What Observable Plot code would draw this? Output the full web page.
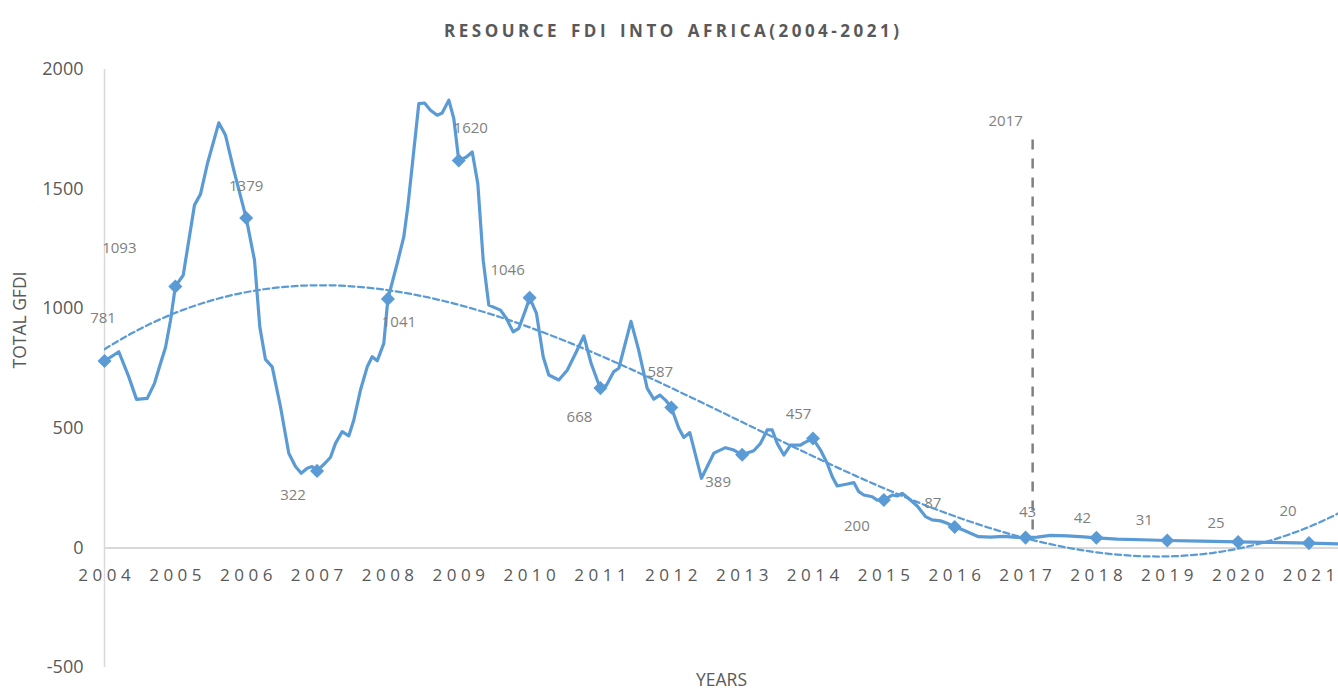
<!DOCTYPE html>
<html>
<head>
<meta charset="utf-8">
<script src="https://cdn.jsdelivr.net/npm/d3@7"></script>
<script src="https://cdn.jsdelivr.net/npm/@observablehq/plot@0.6"></script>
<style>
  body { margin: 0; background: #ffffff; }
  #chart svg { display: block; }
</style>
</head>
<body>
<div id="chart"></div>
<script>
// ---------- DATA ----------
const titleText = "RESOURCE FDI INTO AFRICA(2004-2021)";
const yAxisTitle = "TOTAL GFDI";
const xAxisTitle = "YEARS";

const years = [2004, 2005, 2006, 2007, 2008, 2009, 2010, 2011, 2012, 2013, 2014, 2015, 2016, 2017, 2018, 2019, 2020, 2021];
const annualFDI = [781, 1093, 1379, 322, 1041, 1620, 1046, 668, 587, 389, 457, 200, 87, 43, 42, 31, 25, 20];

// detailed series (time in decimal years)
const seriesTime = [
  2004.000, 2004.202, 2004.343, 2004.452, 2004.603, 2004.706, 2004.790, 2004.861, 2004.932,
  2005.000, 2005.111, 2005.270, 2005.355, 2005.454, 2005.613, 2005.708, 2005.825,
  2006.000, 2006.117, 2006.192, 2006.272, 2006.367, 2006.484, 2006.601, 2006.696, 2006.776, 2006.861, 2006.932,
  2007.000, 2007.119, 2007.190, 2007.260, 2007.355, 2007.448, 2007.519, 2007.613, 2007.708, 2007.778, 2007.849, 2007.942,
  2008.000, 2008.131, 2008.224, 2008.281, 2008.436, 2008.517, 2008.601, 2008.696, 2008.766, 2008.860, 2008.930,
  2009.000, 2009.109, 2009.190, 2009.269, 2009.345, 2009.424, 2009.589, 2009.674, 2009.768, 2009.848, 2009.942,
  2010.000, 2010.097, 2010.192, 2010.271, 2010.412, 2010.531, 2010.648, 2010.765, 2010.869, 2010.954,
  2011.000, 2011.085, 2011.188, 2011.259, 2011.431, 2011.537, 2011.660, 2011.753, 2011.838, 2011.918,
  2012.000, 2012.106, 2012.176, 2012.261, 2012.426, 2012.600, 2012.765, 2012.882,
  2013.000, 2013.164, 2013.259, 2013.354, 2013.424, 2013.495, 2013.588, 2013.683, 2013.824, 2013.880,
  2014.000, 2014.106, 2014.200, 2014.271, 2014.342, 2014.483, 2014.576, 2014.646, 2014.717, 2014.836, 2014.906,
  2015.000, 2015.118, 2015.188, 2015.259, 2015.330, 2015.471, 2015.588, 2015.682, 2015.800, 2015.894,
  2016.000, 2016.129, 2016.223, 2016.336, 2016.505, 2016.689, 2016.882,
  2017.000, 2017.164, 2017.352, 2017.588, 2017.822,
  2018.000, 2018.294, 2018.764,
  2019.000, 2019.469,
  2020.000, 2020.411,
  2021.000, 2021.417
];
const seriesFDI = [
  781, 820, 715, 621, 625, 688, 771, 838, 952,
  1093, 1140, 1433, 1479, 1608, 1777, 1725, 1579,
  1379, 1203, 924, 788, 757, 590, 396, 340, 312, 333, 340,
  322, 356, 379, 437, 486, 468, 535, 660, 757, 799, 782, 855,
  1041, 1189, 1300, 1426, 1857, 1860, 1830, 1809, 1818, 1872, 1795,
  1620, 1634, 1655, 1523, 1203, 1015, 994, 959, 903, 918, 994,
  1046, 980, 799, 723, 702, 743, 813, 886, 771, 702,
  668, 680, 737, 751, 947, 830, 667, 622, 639, 618,
  587, 500, 462, 482, 291, 396, 419, 409,
  389, 406, 437, 493, 493, 437, 388, 430, 430, 440,
  457, 409, 354, 298, 259, 267, 273, 235, 221, 214, 200,
  200, 221, 217, 228, 212, 175, 131, 117, 113, 103,
  87, 74, 61, 47, 45, 48, 44,
  43, 45, 52, 50, 46,
  42, 37, 33,
  31, 28,
  25, 23,
  20, 17
];

const yTicks = [-500, 0, 500, 1000, 1500, 2000];
const annotationLabel = "2017";
const annotationYear = 2017.1;
const annotationRange = [1705, 75];

// ---------- LAYOUT / STYLE ----------
const W = 1338, H = 695;
const blue = "#5b9bd5";
const axisGray = "#595959";
const labelGray = "#7f7f7f";
const xDomain = [2004, 2021.417];
const labelDx = [-1.5, -56, 0, -24, 11, 12, -22, -21, -11, -24, -14.5, -27, -22, 2, -14, -23, -22, -21];
const labelDy = [-43, -38, -32, 24, 23, -32, -28, 29, -35.5, 27, -24, 26, -24, -25, -20, -20.5, -19, -32];

// ---------- TREND (3rd-order polynomial least squares on the annual points) ----------
function polyFit(xs, ys, deg) {
  const n = deg + 1;
  const A = Array.from({length: n}, () => new Array(n + 1).fill(0));
  for (let i = 0; i < xs.length; i++) {
    for (let r = 0; r < n; r++) {
      for (let c = 0; c < n; c++) A[r][c] += Math.pow(xs[i], r + c);
      A[r][n] += ys[i] * Math.pow(xs[i], r);
    }
  }
  for (let col = 0; col < n; col++) {
    let piv = col;
    for (let r = col + 1; r < n; r++) if (Math.abs(A[r][col]) > Math.abs(A[piv][col])) piv = r;
    [A[col], A[piv]] = [A[piv], A[col]];
    for (let r = 0; r < n; r++) {
      if (r === col) continue;
      const f = A[r][col] / A[col][col];
      for (let c = col; c <= n; c++) A[r][c] -= f * A[col][c];
    }
  }
  return A.map((row, i) => row[n] / row[i]);
}
const coef = polyFit(years.map(y => y - 2003), annualFDI, 3);
const trendAt = t => coef.reduce((s, c, k) => s + c * Math.pow(t - 2003, k), 0);
const trendT = d3.range(0, 241).map(i => xDomain[0] + i * (xDomain[1] - xDomain[0]) / 240);

// custom square-diamond marker (Excel style)
const diamond = {
  draw(context, size) {
    const h = Math.sqrt(size / 2);
    context.moveTo(0, -h); context.lineTo(h, 0); context.lineTo(0, h); context.lineTo(-h, 0); context.closePath();
  }
};

const idx = seriesTime.map((_, i) => i);
const yIdx = years.map((_, i) => i);

const dataLabels = yIdx.map(i => Plot.text([i], {
  x: i => years[i], y: i => annualFDI[i], text: i => String(annualFDI[i]),
  dx: labelDx[i], dy: labelDy[i], fontSize: 15, fill: labelGray
}));

const tickSpacing = 4.5, titleSpacing = 3.5;

const chart = Plot.plot({
  width: W, height: H,
  marginTop: 69, marginBottom: 28, marginLeft: 104, marginRight: 0,
  style: {fontFamily: "'Open Sans', sans-serif", background: "#ffffff", overflow: "visible"},
  x: {domain: xDomain, axis: null},
  y: {domain: [-500, 2000], axis: null},
  marks: [
    Plot.ruleX([2004], {y1: -500, y2: 2000, stroke: "#d9d9d9", strokeWidth: 1.5}),
    Plot.ruleY([0], {stroke: "#d9d9d9", strokeWidth: 2}),
    Plot.axisY({ticks: yTicks, tickSize: 0, tickPadding: 21, fontSize: 18, fill: axisGray,
                label: null, tickFormat: d => String(d)}),
    Plot.text(years, {x: d => d, y: 0, dy: 28, dx: tickSpacing / 2, text: d => String(d), fontSize: 17,
                      fill: axisGray}),
    Plot.ruleX([annotationYear], {y1: annotationRange[0], y2: annotationRange[1], stroke: "#808080",
                                  strokeWidth: 2.5, strokeDasharray: "10,9"}),
    Plot.text([annotationLabel], {x: annotationYear, y: annotationRange[0], dx: -27, dy: -19,
                                  text: d => d, fontSize: 15, fill: labelGray}),
    Plot.line(trendT, {x: t => t, y: t => trendAt(t), stroke: blue, strokeWidth: 2.25,
                       strokeDasharray: "6,3.5", clip: true}),
    Plot.line(idx, {x: i => seriesTime[i], y: i => seriesFDI[i], stroke: blue, strokeWidth: 3.2,
                    strokeLinejoin: "round", clip: true}),
    Plot.dot(yIdx, {x: i => years[i], y: i => annualFDI[i], symbol: diamond, r: 5.6, fill: blue, stroke: "none"}),
    ...dataLabels,
    Plot.text([titleText], {frameAnchor: "top", dy: -45, dx: -50 + titleSpacing / 2, text: d => d, fontSize: 17,
                            fontWeight: "bold", fill: axisGray}),
    Plot.text([yAxisTitle], {frameAnchor: "left", dx: -84, rotate: -90, text: d => d, fontSize: 17.5, fill: axisGray}),
    Plot.text([xAxisTitle], {frameAnchor: "bottom", dy: 18, text: d => d, fontSize: 17.5, fill: axisGray})
  ]
});

document.getElementById("chart").appendChild(chart);

// letter spacing (Excel-style spaced text) applied to the rendered text nodes
const yearStrings = new Set(years.map(String));
chart.querySelectorAll("g").forEach(g => {
  const texts = Array.from(g.querySelectorAll(":scope > text"));
  if (texts.length === years.length && texts.every(t => yearStrings.has(t.textContent))) {
    g.setAttribute("letter-spacing", tickSpacing);
  }
});
chart.querySelectorAll("text").forEach(t => {
  if (t.textContent === titleText) {
    t.setAttribute("letter-spacing", titleSpacing);
    t.setAttribute("word-spacing", 3);
  }
});
</script>
</body>
</html>
